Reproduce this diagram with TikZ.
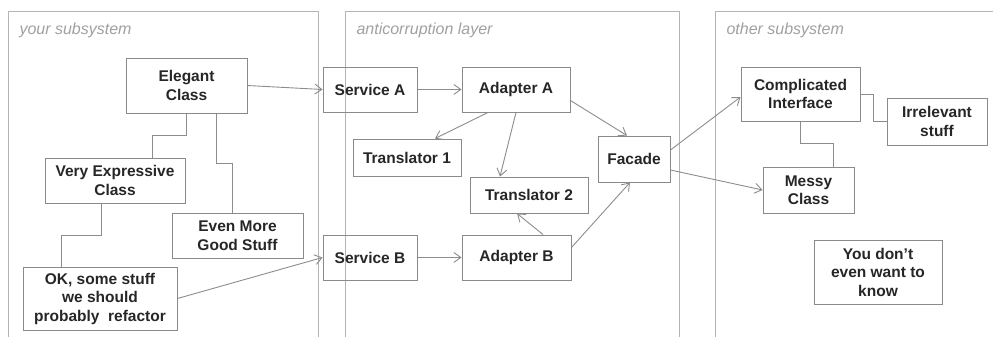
\documentclass[tikz,border=0pt]{standalone}
\usepackage{fontspec}
\setmainfont{Liberation Sans}
\usetikzlibrary{arrows.meta}
\definecolor{boxgray}{HTML}{8A8A8A}
\definecolor{linegray}{HTML}{8C8C8C}
\definecolor{panelgray}{HTML}{B4B4B4}
\definecolor{labelgray}{HTML}{A0A0A0}
\tikzset{
  box/.style={draw=boxgray,line width=0.9pt,align=center,inner sep=0pt,text=black!85,
    font=\bfseries\fontsize{15.5}{18.5}\selectfont},
  link/.style={draw=linegray,line width=0.9pt},
  uses/.style={link,-{Straight Barb[length=7pt,width=10pt]}},
  panel/.style={draw=panelgray,line width=1pt},
  tag/.style={anchor=base west,text=labelgray,font=\itshape\fontsize{16}{19}\selectfont}
}
\begin{document}
\begin{tikzpicture}[x=1pt,y=-1pt]
  \useasboundingbox (0,0) rectangle (993,337);
  \draw[panel] (8,337) -- (8,12) -- (318,12) -- (318,337);
  \draw[panel] (345,337) -- (345,12) -- (679,12) -- (679,337);
  \draw[panel] (715,337) -- (715,12) -- (993,12);
  \node[tag] (yours) at (16,35) {your subsystem};
  \node[tag] (acl) at (353,35) {anticorruption layer};
  \node[tag] (other) at (723,35) {other subsystem};

  \node[box,minimum width=121pt,minimum height=55pt] (elegant) at (186.5,85.5) {Elegant\\Class};
  \node[box,minimum width=140pt,minimum height=45pt] (veryexp) at (115,180.5) {Very Expressive\\Class};
  \node[box,minimum width=131pt,minimum height=45pt] (evenmore) at (237.5,235.5) {Even More\\Good Stuff};
  \node[box,minimum width=154pt,minimum height=63pt] (refactor) at (100,298.5) {OK, some stuff\\we should\\probably~ refactor};

  \node[box,minimum width=94pt,minimum height=45pt] (servA) at (370,89.5) {Service A};
  \node[box,minimum width=108pt,minimum height=45pt] (adaptA) at (516,89.5) {Adapter A};
  \node[box,minimum width=108pt,minimum height=37pt] (trans1) at (407,157.5) {Translator 1};
  \node[box,minimum width=118pt,minimum height=36pt] (trans2) at (529,195) {Translator 2};
  \node[box,minimum width=72pt,minimum height=46pt] (facade) at (634,159) {Facade};
  \node[box,minimum width=94pt,minimum height=45pt] (servB) at (370,257.5) {Service B};
  \node[box,minimum width=109pt,minimum height=45pt] (adaptB) at (516.5,257.5) {Adapter B};

  \node[box,minimum width=119pt,minimum height=54pt] (complic) at (800.5,94) {Complicated\\Interface};
  \node[box,minimum width=100pt,minimum height=47pt] (irrelev) at (937,121.5) {Irrelevant\\stuff};
  \node[box,minimum width=91pt,minimum height=46pt] (messy) at (808.5,190) {Messy\\Class};
  \node[box,minimum width=128pt,minimum height=64pt] (wantknow) at (878,272) {You don't\\even want to\\know};

  \draw[link] (elegant.south) -- ++(0,22) -| ([xshift=37pt]veryexp.north);
  \draw[link] ([xshift=29.5pt]elegant.south) -- ++(0,50) -| ([xshift=-5.5pt]evenmore.north);
  \draw[link] ([xshift=-14pt]veryexp.south) -- ++(0,32) -| ([xshift=-39pt]refactor.north);
  \draw[link] (complic.east) -- ++(13,0) |- (irrelev.west);
  \draw[link] (complic.south) -- ++(0,22) -| ([xshift=24.5pt]messy.north);

  \draw[uses] (elegant.east) -- (servA.west);
  \draw[uses] (refactor.east) -- (servB.west);
  \draw[uses] (servA.east) -- (adaptA.west);
  \draw[uses] (servB.east) -- (adaptB.west);
  \draw[uses] ([xshift=-28pt]adaptA.south) -- ([xshift=28pt]trans1.north);
  \draw[uses] (adaptA.south) -- ([xshift=-29pt]trans2.north);
  \draw[uses] ([yshift=-11pt]adaptA.east) -- ([xshift=-7pt]facade.north);
  \draw[uses] ([xshift=26.5pt]adaptB.north) -- ([xshift=-12pt]trans2.south);
  \draw[uses] ([yshift=10pt]adaptB.east) -- ([xshift=-4pt]facade.south);
  \draw[uses] ([yshift=9pt]facade.east) -- ([yshift=-3pt]complic.west);
  \draw[uses] ([yshift=-11pt]facade.east) -- (messy.west);
\end{tikzpicture}
\end{document}
